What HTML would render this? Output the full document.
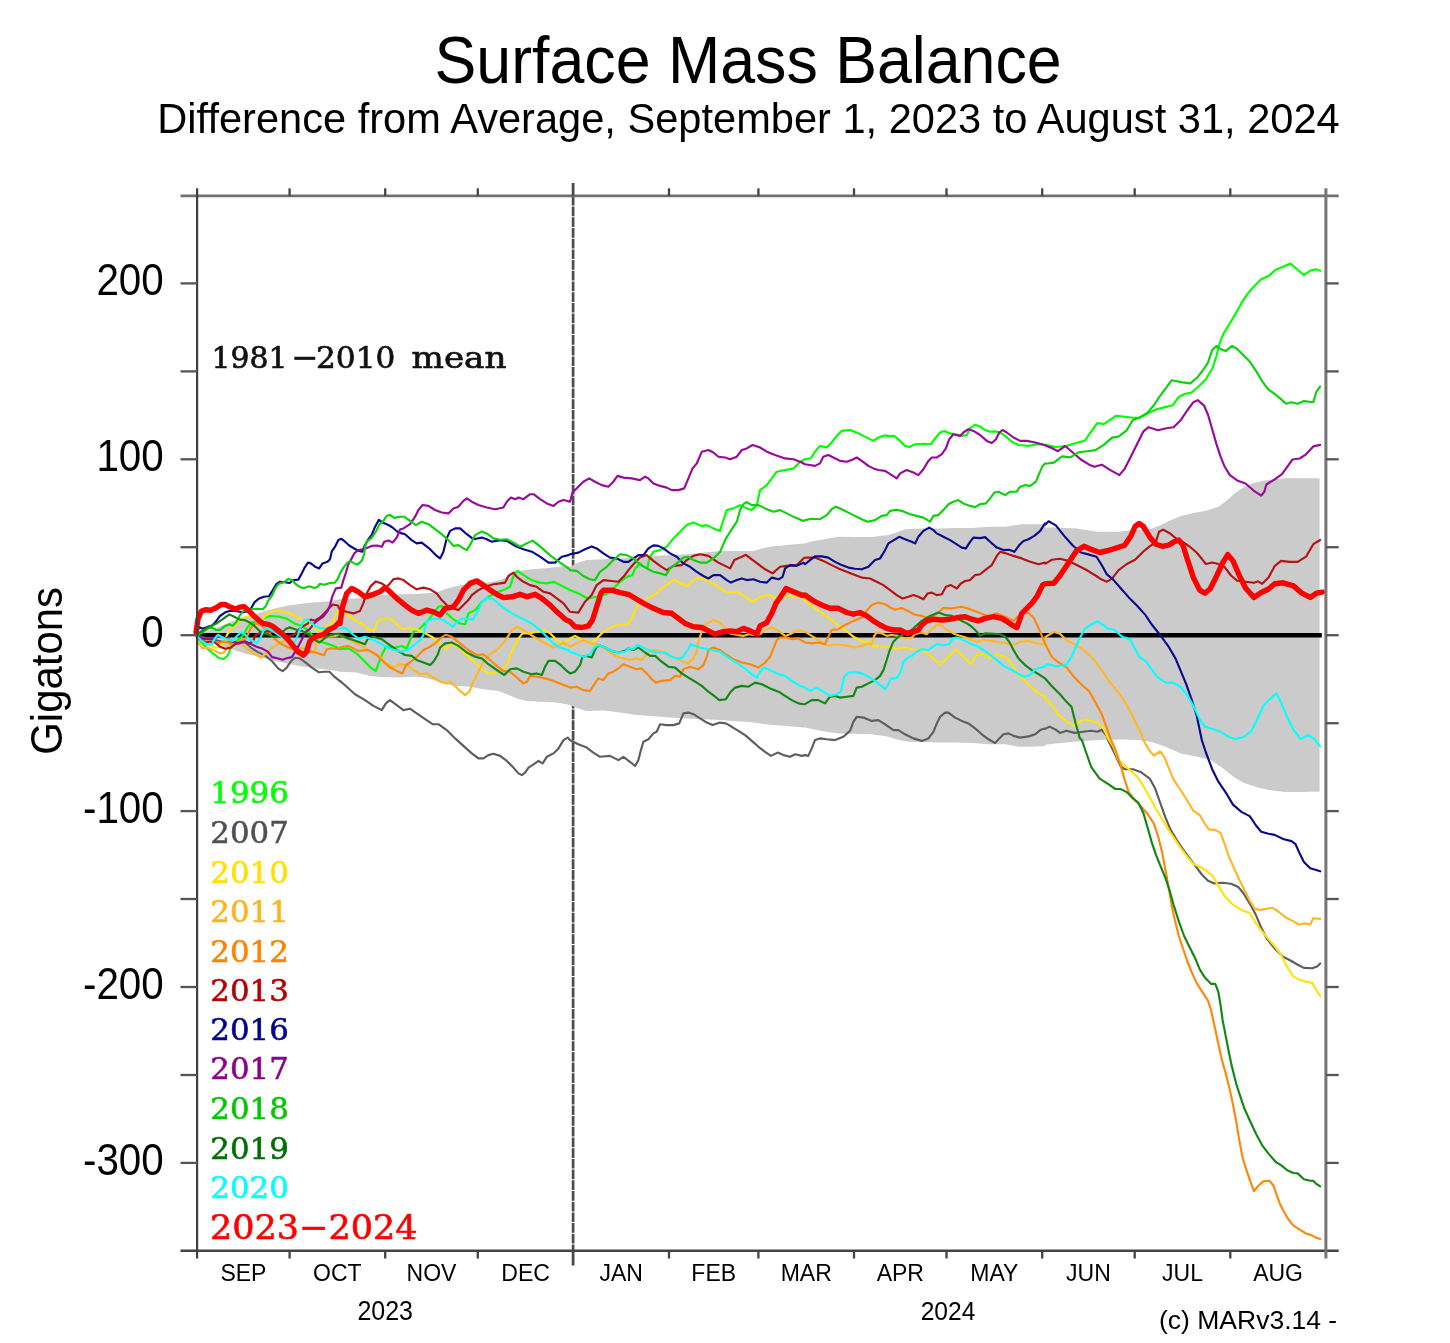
<!DOCTYPE html>
<html lang="en"><head><meta charset="utf-8"><title>Surface Mass Balance</title>
<style>
html,body{margin:0;padding:0;background:#fff;}
body{width:1450px;height:1343px;overflow:hidden;font-family:"Liberation Sans",sans-serif;}
svg{display:block;filter:blur(0.5px);}
.sans{font-family:"Liberation Sans",sans-serif;}
.serif{font-family:"DejaVu Serif","Liberation Serif",serif;}
</style></head><body>
<svg width="1450" height="1343" viewBox="0 0 1450 1343">
<rect width="1450" height="1343" fill="#ffffff"/>

<text class="sans" transform="translate(748.1,83.2) scale(1,1.05)" font-size="62.7" text-anchor="middle" fill="#000">Surface Mass Balance</text>
<text class="sans" transform="translate(748.5,133) scale(1,1.035)" font-size="41.6" text-anchor="middle" fill="#000">Difference from Average, September 1, 2023 to August 31, 2024</text>
<line x1="573.1" y1="195.9" x2="573.1" y2="1250.8" stroke="#4c4c4c" stroke-width="2.7" stroke-dasharray="9.7,1.0"/>
<path d="M196.0,635.2 L205.4,632.1 L215.8,628.0 L226.3,623.8 L236.7,619.6 L247.1,616.5 L257.5,613.4 L268.0,610.2 L278.4,607.6 L288.8,605.5 L299.2,604.0 L309.7,602.7 L320.1,601.9 L330.5,601.2 L340.0,599.3 L356.7,598.4 L373.4,595.9 L390.0,594.3 L406.7,594.3 L423.4,593.4 L436.7,592.6 L446.7,588.4 L456.7,585.9 L466.8,584.3 L483.4,583.4 L500.1,580.1 L506.8,576.8 L513.4,573.4 L517.6,570.9 L531.8,569.3 L548.5,568.1 L565.2,565.9 L570.0,566.8 L578.3,562.6 L586.7,560.1 L603.4,559.3 L620.0,558.4 L636.7,557.6 L653.4,555.9 L670.1,555.1 L686.7,554.3 L703.4,552.6 L720.1,550.9 L736.8,550.9 L753.5,550.9 L761.8,548.4 L770.1,546.8 L786.8,545.1 L803.5,543.4 L805.0,543.4 L813.3,540.9 L821.7,539.8 L838.4,536.8 L855.0,537.1 L871.7,537.1 L888.4,535.1 L898.4,531.8 L905.1,529.3 L921.7,528.4 L938.4,528.4 L955.1,528.1 L971.8,528.1 L988.5,526.8 L1005.1,526.8 L1021.8,524.2 L1038.5,524.2 L1045.0,524.2 L1045.4,527.5 L1055.8,527.5 L1076.7,528.6 L1097.5,531.7 L1118.4,531.7 L1126.7,530.7 L1151.7,528.6 L1160.1,525.4 L1168.4,521.3 L1180.9,516.1 L1193.4,512.9 L1205.9,510.8 L1218.4,506.7 L1226.8,500.4 L1235.1,493.1 L1243.5,487.6 L1251.8,483.5 L1264.3,480.4 L1274.7,479.3 L1285.2,478.3 L1319.6,478.3 L1319.6,791.5 L1301.8,792.1 L1285.2,792.1 L1268.5,790.0 L1256.0,786.9 L1243.5,782.7 L1233.0,776.5 L1222.6,768.1 L1210.1,759.8 L1197.6,756.7 L1180.9,753.6 L1164.2,746.3 L1151.7,742.1 L1139.2,740.0 L1122.6,739.5 L1103.8,739.7 L1076.7,741.4 L1055.8,743.5 L1045.4,744.7 L1045.0,745.9 L1030.2,746.8 L1018.5,746.8 L1005.1,744.3 L988.5,744.3 L971.8,743.1 L955.1,742.6 L938.4,742.6 L921.7,742.1 L908.4,741.8 L898.4,740.1 L888.4,736.8 L871.7,734.3 L855.0,733.8 L838.4,733.4 L821.7,730.9 L805.0,727.6 L803.5,727.6 L786.8,725.9 L770.1,724.8 L753.5,722.6 L736.8,721.3 L720.1,720.1 L703.4,719.3 L686.7,718.4 L670.1,717.6 L653.4,716.3 L636.7,715.1 L620.0,712.6 L603.4,710.4 L586.7,710.9 L578.3,708.4 L570.0,705.1 L556.8,702.6 L540.1,701.7 L526.8,700.9 L516.8,698.4 L506.8,694.2 L498.4,690.9 L483.4,689.2 L470.1,686.7 L456.7,685.9 L446.7,684.2 L433.4,680.0 L423.4,677.5 L415.1,676.7 L398.4,677.5 L381.7,677.0 L370.0,675.9 L356.7,672.5 L340.0,671.7 L330.5,669.9 L320.1,668.8 L309.7,667.6 L299.2,666.0 L288.8,663.9 L278.4,661.8 L268.0,659.2 L257.5,656.6 L247.1,654.0 L236.7,650.9 L226.3,647.8 L215.8,643.6 L205.4,638.4 L196.0,635.2Z" fill="#cbcbcb" stroke="none"/>
<line x1="197.1" y1="635.2" x2="1321.8" y2="635.2" stroke="#000" stroke-width="4.6"/>
<path d="M196.0,635.2 L201.3,642.5 L207.5,648.8 L213.8,654.0 L219.0,658.2 L223.7,659.0 L227.3,656.1 L229.4,651.9 L231.0,646.7 L234.6,642.5 L239.8,638.4 L244.0,634.2 L247.1,628.0 L250.2,623.8 L254.4,621.7 L259.6,620.7 L262.8,618.6 L270.1,616.0 L278.4,616.5 L286.7,618.6 L295.1,623.8 L303.4,626.4 L309.7,632.1 L314.9,638.4 L320.1,641.5 L328.4,644.1 L335.7,646.7 L340.0,649.2 L348.3,648.4 L356.7,653.4 L365.0,661.7 L371.7,668.4 L375.9,670.9 L379.2,661.7 L382.5,653.4 L385.9,646.7 L395.0,647.6 L401.7,646.0 L406.7,648.5 L410.0,640.1 L413.4,631.8 L418.4,630.1 L423.4,625.1 L428.4,620.1 L433.4,613.4 L438.4,606.8 L441.7,605.9 L446.7,613.4 L453.4,619.3 L460.1,623.5 L465.1,624.3 L468.4,613.4 L475.1,610.1 L481.8,601.8 L488.4,596.8 L496.8,592.6 L505.1,589.3 L510.1,586.8 L514.3,573.4 L517.6,570.9 L523.5,575.1 L531.8,580.1 L540.1,582.6 L546.8,583.4 L553.5,581.8 L561.8,585.9 L570.0,590.1 L580.0,594.3 L587.5,598.5 L596.7,596.8 L605.9,594.3 L613.4,588.5 L620.0,581.8 L626.7,576.8 L632.5,575.1 L635.0,568.4 L640.0,563.4 L643.4,566.8 L647.6,567.6 L649.2,558.4 L653.4,551.8 L660.1,550.1 L666.7,546.8 L673.4,538.4 L680.1,531.8 L686.7,525.1 L693.4,522.6 L701.8,525.9 L706.8,525.1 L713.4,528.4 L720.1,530.9 L723.4,520.1 L726.8,510.1 L733.4,508.4 L740.1,505.1 L746.8,508.4 L751.8,510.1 L756.8,505.1 L760.1,490.1 L766.8,485.1 L771.8,478.4 L776.8,471.7 L785.1,470.0 L793.5,468.4 L800.2,461.7 L805.0,459.2 L810.8,458.4 L815.0,451.7 L820.0,445.9 L826.7,447.5 L831.7,442.5 L836.7,435.9 L841.7,430.9 L850.0,430.0 L856.7,432.5 L863.4,435.9 L868.4,438.4 L873.4,440.9 L878.4,437.5 L885.1,435.4 L890.1,436.4 L894.2,435.9 L900.1,440.9 L905.1,445.9 L909.2,447.0 L915.1,444.2 L923.4,443.7 L930.9,444.2 L935.9,437.5 L940.1,432.5 L944.3,430.9 L950.1,433.4 L955.1,434.2 L961.8,435.9 L966.8,435.0 L970.1,428.4 L975.1,424.7 L980.1,426.4 L985.1,430.0 L990.1,431.7 L995.1,431.4 L1000.1,432.5 L1005.1,435.9 L1011.8,441.7 L1018.5,445.0 L1028.5,445.9 L1036.8,444.2 L1045.0,445.0 L1045.4,444.9 L1055.8,447.0 L1066.3,446.0 L1076.7,442.8 L1085.0,440.7 L1091.3,431.4 L1097.5,423.0 L1103.8,424.1 L1110.0,419.9 L1116.3,415.7 L1124.6,416.8 L1133.0,417.8 L1139.2,417.8 L1147.6,413.6 L1155.9,409.5 L1164.2,407.4 L1172.6,405.3 L1178.8,397.0 L1185.1,393.8 L1191.3,392.8 L1199.7,385.5 L1205.9,379.2 L1212.2,368.8 L1216.4,356.3 L1219.5,343.8 L1223.7,333.4 L1228.9,325.0 L1235.1,314.6 L1241.4,303.2 L1247.6,293.8 L1253.9,286.5 L1261.2,279.2 L1268.5,276.1 L1275.8,269.8 L1283.1,266.7 L1290.4,263.6 L1297.7,269.8 L1303.9,275.0 L1310.2,270.8 L1315.4,269.2 L1320.2,270.8" fill="none" stroke="#00ff00" stroke-width="2.15" stroke-linejoin="round" stroke-linecap="round"/>
<path d="M196.0,635.2 L203.3,637.3 L211.7,639.4 L221.1,641.5 L231.5,642.5 L245.0,642.5 L251.3,647.8 L257.5,651.9 L265.9,656.1 L272.1,661.3 L278.4,668.6 L282.6,671.2 L286.7,667.6 L290.9,661.3 L295.1,657.7 L299.2,658.2 L305.5,662.4 L311.8,667.6 L319.0,672.3 L324.3,671.7 L329.5,671.7 L334.7,676.9 L339.9,681.1 L340.0,680.9 L346.7,686.7 L355.0,694.2 L365.0,700.1 L373.4,705.9 L381.7,710.1 L385.9,703.4 L390.0,700.1 L396.7,705.1 L403.4,710.1 L410.0,708.7 L416.7,713.4 L425.1,719.2 L432.6,724.2 L438.4,724.2 L446.7,730.1 L455.1,738.4 L463.4,745.9 L471.8,753.4 L478.4,758.4 L483.4,758.4 L488.4,755.1 L493.4,753.8 L500.1,755.9 L506.8,760.9 L513.4,767.6 L518.5,773.4 L521.8,775.1 L525.1,772.6 L528.5,767.6 L533.5,764.3 L538.5,760.9 L542.6,763.4 L546.8,756.8 L553.5,753.4 L558.5,748.4 L563.5,740.1 L567.7,737.6 L570.0,740.1 L578.3,744.3 L586.7,747.6 L593.3,752.6 L600.0,756.8 L610.0,755.9 L618.4,760.1 L623.4,756.8 L630.0,761.8 L635.0,766.0 L638.4,760.1 L640.9,750.1 L643.4,741.8 L648.4,739.3 L653.4,733.4 L656.7,731.8 L660.1,724.3 L666.7,725.1 L673.4,725.1 L679.2,723.4 L683.4,713.4 L688.4,712.6 L693.4,714.2 L700.1,718.4 L706.8,722.6 L712.6,725.1 L720.1,722.6 L725.9,723.4 L731.8,726.8 L738.4,730.9 L745.1,735.1 L751.8,740.9 L758.5,746.8 L765.1,751.8 L771.0,755.9 L777.6,752.6 L783.5,755.1 L790.1,756.8 L795.2,754.3 L801.8,755.9 L805.0,755.1 L808.3,755.9 L811.7,748.4 L815.0,740.1 L820.0,738.4 L826.7,739.3 L835.0,740.1 L843.4,736.8 L850.0,730.9 L853.4,721.8 L856.7,716.8 L863.4,717.6 L871.7,720.9 L878.4,720.1 L885.1,724.3 L893.4,730.1 L898.4,730.1 L905.1,734.3 L913.4,738.4 L921.7,740.9 L928.4,738.4 L933.4,731.8 L936.8,723.4 L940.1,716.8 L945.1,712.6 L948.4,712.6 L955.1,717.6 L961.8,720.9 L968.4,723.4 L975.1,728.4 L981.8,734.3 L988.5,739.3 L995.1,743.1 L999.3,738.4 L1003.5,734.3 L1008.5,733.4 L1013.5,735.9 L1020.1,737.6 L1028.5,736.4 L1035.2,734.3 L1040.2,730.1 L1045.0,728.4 L1045.4,728.7 L1049.6,726.6 L1055.8,729.7 L1060.0,732.9 L1066.3,730.8 L1074.6,732.9 L1082.9,731.8 L1091.3,730.8 L1097.5,731.8 L1101.7,729.7 L1106.9,736.0 L1108.0,740.0 L1114.2,752.5 L1120.5,766.1 L1124.6,769.2 L1133.0,769.2 L1141.3,772.3 L1149.7,778.6 L1154.9,787.9 L1160.1,802.5 L1165.3,817.1 L1170.5,829.6 L1176.8,840.1 L1183.0,849.4 L1189.3,857.8 L1195.5,866.1 L1201.8,874.5 L1208.0,880.7 L1214.3,883.4 L1222.6,882.8 L1231.0,883.8 L1238.3,887.0 L1243.5,893.2 L1249.7,903.6 L1256.0,915.1 L1261.2,927.6 L1266.4,938.0 L1274.7,948.5 L1283.1,956.8 L1291.4,961.0 L1297.7,964.7 L1303.9,967.9 L1312.3,968.3 L1317.5,966.2 L1320.2,963.5" fill="none" stroke="#5e5e5e" stroke-width="2.15" stroke-linejoin="round" stroke-linecap="round"/>
<path d="M196.0,635.2 L201.3,640.5 L208.6,644.6 L215.8,647.8 L221.1,646.7 L223.1,644.6 L224.2,641.5 L227.3,634.2 L232.5,628.0 L238.8,621.7 L245.0,617.0 L249.2,616.5 L255.5,619.6 L261.7,619.6 L266.9,614.4 L272.1,611.3 L278.4,610.8 L284.6,612.3 L289.9,613.4 L295.1,616.0 L300.3,618.6 L304.5,621.2 L308.6,623.8 L312.8,628.0 L317.0,630.0 L322.2,631.1 L326.3,626.9 L330.5,623.8 L333.6,621.2 L335.7,614.4 L338.9,610.2 L340.0,612.5 L346.7,615.0 L355.0,620.0 L363.3,625.0 L370.0,630.0 L374.2,630.8 L377.5,621.7 L381.7,619.2 L388.4,618.3 L393.4,620.8 L398.4,625.8 L403.4,629.2 L410.0,628.3 L418.4,630.0 L425.1,633.3 L431.7,636.7 L438.4,641.7 L443.4,647.5 L446.7,649.2 L450.1,643.4 L456.7,645.9 L463.4,651.7 L470.1,658.4 L476.8,664.2 L483.4,670.0 L488.4,673.4 L495.1,672.5 L501.8,670.0 L506.8,665.0 L510.1,655.0 L514.3,646.7 L518.5,638.4 L522.6,633.3 L530.1,633.3 L536.8,631.7 L545.1,630.0 L550.1,633.3 L556.8,640.0 L563.5,643.4 L570.0,638.4 L575.0,635.9 L580.0,638.4 L586.7,641.7 L593.3,641.7 L598.4,636.7 L603.4,631.7 L610.0,628.4 L616.7,625.0 L626.7,625.0 L631.7,618.4 L635.9,608.3 L640.0,603.3 L645.1,600.1 L653.4,595.1 L661.7,588.5 L668.4,583.5 L674.2,579.3 L680.1,583.5 L686.7,586.0 L693.4,580.1 L700.1,577.6 L708.4,581.0 L716.8,586.0 L726.8,592.6 L736.8,591.8 L745.1,596.8 L752.6,601.8 L760.1,596.8 L768.5,595.1 L776.8,598.5 L785.1,595.1 L793.5,596.8 L801.8,596.8 L805.0,600.8 L811.7,605.8 L820.0,611.7 L828.3,617.5 L836.7,624.2 L845.0,630.0 L853.4,636.7 L861.7,640.9 L871.7,643.4 L873.4,645.9 L880.1,647.5 L888.4,646.7 L895.1,649.2 L903.4,647.5 L911.7,649.2 L920.1,649.7 L926.7,652.5 L931.8,657.5 L936.8,661.7 L940.1,664.2 L945.1,660.0 L950.1,655.0 L955.9,649.2 L961.8,655.0 L966.8,660.0 L970.9,664.2 L974.3,658.4 L978.4,653.4 L984.3,655.0 L990.1,658.4 L996.8,654.2 L1003.5,656.7 L1008.5,659.2 L1013.5,666.7 L1018.5,675.1 L1025.1,680.9 L1031.8,687.6 L1038.5,693.4 L1045.0,696.7 L1045.4,698.5 L1051.7,704.7 L1057.9,714.1 L1066.3,721.4 L1074.6,725.6 L1079.8,721.4 L1085.0,719.3 L1091.3,721.0 L1097.5,722.4 L1103.8,728.7 L1108.0,738.1 L1113.2,746.3 L1118.4,759.8 L1121.5,762.9 L1128.8,769.2 L1137.1,776.5 L1143.4,785.9 L1149.7,797.3 L1155.9,808.8 L1162.2,819.2 L1168.4,829.6 L1174.7,839.0 L1180.9,848.4 L1187.2,856.7 L1193.4,864.0 L1199.7,866.7 L1205.9,870.3 L1212.2,875.5 L1218.4,885.9 L1224.7,896.3 L1233.0,904.7 L1241.4,909.9 L1249.7,913.0 L1256.0,923.4 L1262.2,931.8 L1268.5,939.1 L1274.7,946.4 L1281.0,954.7 L1287.2,967.2 L1293.5,976.6 L1299.7,979.7 L1306.0,981.8 L1312.3,982.9 L1316.4,990.2 L1320.2,996.0" fill="none" stroke="#ffe30a" stroke-width="2.15" stroke-linejoin="round" stroke-linecap="round"/>
<path d="M196.0,635.2 L198.1,642.5 L202.3,647.8 L208.6,647.8 L214.8,650.9 L220.0,653.5 L224.2,652.4 L227.3,647.8 L230.4,644.6 L236.7,642.5 L241.9,644.6 L247.1,648.8 L253.4,653.0 L260.7,657.7 L263.8,655.1 L268.0,651.9 L272.1,647.8 L277.4,644.6 L281.5,642.5 L284.6,640.5 L288.8,642.5 L294.0,646.7 L299.2,648.8 L303.4,647.8 L309.7,650.9 L314.9,651.9 L315.9,643.6 L319.0,642.5 L320.1,638.4 L326.3,636.8 L333.6,636.3 L340.0,635.0 L350.0,640.0 L360.0,645.0 L370.0,650.9 L380.0,656.7 L386.7,663.4 L393.4,667.5 L400.0,664.2 L406.7,665.0 L413.4,670.0 L420.1,674.2 L426.7,673.4 L433.4,677.5 L440.1,681.7 L446.7,683.4 L450.1,681.7 L455.1,685.9 L460.1,690.9 L465.1,695.1 L469.3,691.7 L473.4,681.7 L478.4,671.7 L483.4,661.7 L490.1,654.2 L496.8,650.0 L501.8,645.0 L506.8,638.4 L511.8,630.0 L517.6,626.7 L521.8,629.2 L528.5,633.3 L535.1,637.5 L543.5,642.5 L553.5,647.5 L558.5,645.9 L563.5,642.5 L570.0,646.7 L576.7,643.4 L583.3,640.0 L591.7,643.4 L596.7,644.2 L603.4,647.5 L610.0,652.5 L616.7,656.7 L623.4,658.4 L630.0,660.0 L636.7,658.4 L641.7,660.0 L646.7,654.2 L650.1,650.9 L656.7,650.0 L663.4,652.5 L670.1,655.9 L676.7,658.4 L683.4,661.7 L688.4,663.4 L693.4,658.4 L696.8,651.7 L698.4,641.7 L701.8,631.7 L706.8,623.4 L713.4,620.0 L720.1,622.5 L725.1,628.4 L730.1,633.4 L736.8,635.0 L743.4,635.9 L748.5,634.2 L753.5,635.0 L760.1,634.2 L765.1,630.0 L771.8,627.5 L778.5,630.9 L785.1,635.9 L791.8,633.4 L798.5,630.0 L805.0,631.7 L811.7,635.9 L818.3,640.0 L823.3,643.4 L828.3,645.9 L835.0,644.2 L841.7,645.0 L848.4,645.9 L855.0,647.5 L861.7,645.9 L868.4,643.4 L871.7,644.2 L874.2,635.9 L876.7,632.5 L881.7,633.4 L886.7,635.9 L891.7,635.0 L898.4,635.9 L905.1,638.4 L911.7,637.5 L915.1,634.2 L921.7,632.5 L926.7,634.2 L931.8,629.2 L936.8,625.0 L941.8,625.9 L946.8,630.0 L953.4,633.4 L960.1,635.9 L968.4,638.4 L976.8,641.7 L983.5,640.0 L991.8,640.9 L1000.1,642.5 L1006.8,643.4 L1013.5,645.0 L1020.1,641.7 L1028.5,640.9 L1036.8,643.4 L1045.0,644.2 L1045.4,637.0 L1053.8,631.8 L1060.0,633.8 L1066.3,640.1 L1074.6,644.3 L1082.9,649.5 L1091.3,656.8 L1099.6,667.2 L1108.0,679.7 L1116.3,690.1 L1122.6,698.5 L1128.8,708.9 L1135.1,721.4 L1141.3,733.9 L1143.4,740.0 L1148.6,749.4 L1153.8,755.6 L1160.1,751.5 L1164.2,756.7 L1168.4,767.1 L1173.6,779.6 L1179.9,789.0 L1187.2,800.5 L1193.4,810.9 L1199.7,815.0 L1203.9,822.3 L1209.1,829.6 L1214.3,829.6 L1220.5,832.8 L1224.7,844.2 L1228.9,856.7 L1234.1,868.2 L1239.3,879.7 L1244.5,890.1 L1249.7,900.5 L1254.9,908.9 L1260.1,909.9 L1266.4,908.9 L1272.6,907.8 L1278.9,912.0 L1285.2,917.2 L1293.5,921.4 L1298.7,924.5 L1305.0,923.4 L1310.2,924.5 L1313.3,918.2 L1320.2,918.9" fill="none" stroke="#ffb726" stroke-width="2.15" stroke-linejoin="round" stroke-linecap="round"/>
<path d="M196.0,635.2 L201.3,639.4 L207.5,642.5 L213.8,641.5 L219.0,642.5 L225.2,641.5 L230.4,643.6 L236.7,642.5 L241.9,640.5 L246.1,638.4 L248.2,634.2 L250.2,629.0 L253.4,624.8 L256.5,623.3 L261.7,625.9 L268.0,632.1 L274.2,638.4 L280.5,643.6 L288.8,647.8 L297.2,650.9 L304.5,651.9 L309.7,651.9 L314.9,652.4 L320.1,654.0 L324.3,655.1 L326.3,649.8 L330.5,648.3 L336.8,648.8 L340.0,647.5 L348.3,645.9 L358.3,650.9 L368.4,650.0 L376.7,655.0 L383.4,661.7 L390.0,667.5 L396.7,670.9 L402.5,673.4 L405.9,665.0 L410.0,662.5 L415.1,658.4 L420.1,653.4 L423.4,650.0 L430.1,646.7 L435.1,643.4 L440.1,638.4 L445.9,634.7 L451.7,636.7 L460.1,643.4 L468.4,650.0 L476.8,655.0 L483.4,654.2 L490.1,660.0 L496.8,665.9 L503.4,670.9 L510.1,671.7 L516.8,677.5 L523.5,683.4 L526.8,681.7 L530.1,675.9 L536.8,676.7 L545.1,678.4 L553.5,680.9 L561.8,684.2 L570.0,687.6 L576.7,686.7 L583.3,690.1 L590.0,690.9 L595.0,683.4 L598.4,678.4 L603.4,680.1 L608.4,673.4 L613.4,671.7 L618.4,668.4 L623.4,664.2 L630.0,666.7 L636.7,669.2 L641.7,668.4 L646.7,673.4 L651.7,679.2 L655.9,682.6 L661.7,680.9 L670.1,680.1 L675.1,675.9 L680.1,676.7 L683.4,669.2 L690.1,666.7 L698.4,669.2 L703.4,665.1 L706.8,656.7 L708.4,650.0 L713.4,647.5 L720.1,650.0 L726.8,655.0 L733.4,659.2 L741.8,662.5 L750.1,664.2 L758.5,667.6 L765.1,662.5 L770.1,656.7 L773.5,648.4 L776.8,640.0 L780.1,637.5 L786.8,637.5 L791.8,639.2 L798.5,638.4 L803.5,641.7 L805.0,642.5 L811.7,643.4 L818.3,642.5 L825.0,644.2 L828.3,636.7 L831.7,630.0 L838.4,629.2 L845.0,625.0 L853.4,620.9 L861.7,617.5 L866.7,610.8 L871.7,605.0 L878.4,602.5 L885.1,604.2 L890.1,607.5 L895.1,609.7 L901.7,608.0 L908.4,611.3 L915.1,614.7 L921.7,615.9 L926.7,617.5 L933.4,615.9 L938.4,612.5 L943.4,608.0 L951.8,608.3 L961.8,606.7 L970.1,609.2 L978.4,612.5 L985.1,615.0 L990.1,615.9 L996.8,613.3 L1003.5,615.9 L1010.1,619.2 L1013.5,620.9 L1016.8,617.5 L1021.8,613.0 L1028.5,613.0 L1033.5,617.5 L1036.8,624.2 L1040.2,631.7 L1043.5,640.0 L1045.0,643.4 L1045.4,644.3 L1051.7,656.8 L1057.9,662.0 L1066.3,667.2 L1074.6,677.6 L1082.9,686.0 L1089.2,691.2 L1095.5,702.6 L1101.7,714.1 L1105.9,725.6 L1111.1,740.0 L1115.3,749.4 L1120.5,765.0 L1124.6,779.6 L1128.8,792.1 L1135.1,800.5 L1141.3,806.7 L1147.6,814.0 L1153.8,823.4 L1158.0,835.9 L1162.2,852.6 L1165.3,869.2 L1168.4,885.9 L1171.5,904.7 L1174.7,919.3 L1178.8,936.0 L1183.0,948.5 L1187.2,961.0 L1191.3,971.4 L1196.6,982.9 L1201.8,991.2 L1208.0,1000.6 L1211.2,1011.0 L1213.2,1020.0 L1215.3,1029.6 L1218.4,1044.2 L1221.6,1058.8 L1225.7,1073.4 L1229.9,1090.1 L1233.0,1104.7 L1236.2,1121.3 L1239.3,1140.1 L1242.4,1156.8 L1245.5,1167.2 L1249.7,1179.7 L1253.9,1191.2 L1258.1,1186.0 L1263.3,1181.4 L1269.5,1180.7 L1273.7,1186.0 L1276.8,1195.3 L1279.9,1203.7 L1284.1,1212.0 L1288.3,1219.3 L1293.5,1225.6 L1299.7,1229.7 L1306.0,1233.5 L1312.3,1235.6 L1316.4,1237.7 L1320.2,1239.1" fill="none" stroke="#ff870a" stroke-width="2.15" stroke-linejoin="round" stroke-linecap="round"/>
<path d="M196.0,635.2 L200.2,639.4 L205.4,642.5 L209.6,641.5 L214.8,642.5 L220.0,646.7 L225.2,648.8 L230.4,647.8 L234.6,644.6 L239.8,642.5 L245.0,641.5 L249.2,643.6 L253.4,640.5 L255.5,635.2 L259.6,633.2 L263.8,632.1 L268.0,631.1 L274.2,632.1 L280.5,634.2 L288.8,636.3 L295.1,634.2 L299.2,629.0 L303.4,625.9 L307.6,623.8 L310.7,619.6 L314.9,620.7 L320.1,617.5 L326.3,611.3 L332.6,604.5 L337.8,605.5 L340.0,610.1 L346.7,611.8 L353.3,613.4 L360.0,610.9 L363.3,603.4 L366.7,593.4 L370.9,585.9 L375.9,581.4 L381.7,583.4 L386.7,586.8 L390.0,583.4 L393.4,579.3 L398.4,578.4 L403.4,580.1 L410.0,585.1 L416.7,589.3 L423.4,587.6 L430.1,589.3 L436.7,593.4 L441.7,600.1 L446.7,605.1 L453.4,608.4 L458.4,610.1 L463.4,605.1 L468.4,600.1 L471.8,595.1 L478.4,590.1 L485.1,586.8 L493.4,584.3 L500.1,583.4 L505.1,582.6 L508.4,575.9 L513.4,572.6 L516.8,576.8 L523.5,581.8 L530.1,585.1 L536.8,586.8 L543.5,591.8 L550.1,593.4 L556.8,598.4 L563.5,603.4 L570.0,611.8 L578.3,612.6 L585.0,601.8 L591.7,595.1 L596.7,585.1 L603.4,580.1 L611.7,581.0 L618.4,581.8 L623.4,576.8 L628.4,570.1 L633.4,564.3 L640.0,557.6 L646.7,555.1 L653.4,560.9 L660.1,565.9 L666.7,570.1 L673.4,565.9 L681.7,565.1 L686.7,560.1 L693.4,555.9 L700.1,554.3 L708.4,555.9 L713.4,559.3 L718.4,562.6 L725.1,565.9 L730.1,568.4 L734.3,560.1 L740.1,557.6 L746.0,554.8 L751.8,559.3 L758.5,564.3 L765.1,569.3 L772.6,573.4 L780.1,566.8 L786.8,565.9 L796.8,565.1 L803.5,558.4 L805.0,557.6 L815.0,557.6 L823.3,560.9 L831.7,565.1 L838.4,568.4 L846.7,571.8 L855.0,575.1 L861.7,577.6 L870.0,578.5 L876.7,581.8 L883.4,585.1 L890.1,590.1 L896.7,595.1 L902.6,598.5 L908.4,596.8 L913.4,595.1 L918.4,596.8 L923.4,599.3 L927.6,593.5 L931.8,592.6 L936.8,595.1 L941.8,594.3 L945.9,586.8 L950.9,585.1 L956.8,588.5 L960.9,583.5 L965.1,581.0 L970.1,580.1 L975.1,575.1 L980.1,574.3 L985.1,570.1 L991.8,565.1 L996.8,555.9 L1000.1,551.8 L1005.1,553.1 L1013.5,555.9 L1021.8,558.4 L1030.2,561.8 L1038.5,564.3 L1045.0,562.6 L1045.4,563.6 L1051.7,559.8 L1060.0,558.8 L1068.4,560.9 L1076.7,565.0 L1087.1,570.3 L1095.5,575.5 L1101.7,579.6 L1106.9,581.7 L1112.1,578.6 L1118.4,570.3 L1126.7,564.0 L1135.1,559.8 L1143.4,551.5 L1149.7,546.3 L1155.9,542.1 L1159.0,531.7 L1163.2,529.6 L1170.5,533.8 L1176.8,539.0 L1183.0,542.1 L1189.3,546.3 L1196.6,552.5 L1201.8,558.8 L1205.9,564.0 L1212.2,562.5 L1218.4,564.0 L1224.7,567.1 L1231.0,575.5 L1237.2,580.7 L1245.5,581.7 L1253.9,582.8 L1258.1,581.3 L1262.2,583.8 L1268.5,577.6 L1274.7,566.1 L1281.0,560.9 L1289.3,561.9 L1297.7,561.9 L1306.0,556.7 L1313.3,544.2 L1320.2,540.0" fill="none" stroke="#b81212" stroke-width="2.15" stroke-linejoin="round" stroke-linecap="round"/>
<path d="M196.0,634.2 L199.2,627.4 L202.8,628.5 L207.5,626.9 L211.7,625.9 L215.8,621.7 L220.0,616.0 L225.2,612.3 L230.4,610.8 L236.7,611.3 L243.0,612.3 L248.2,611.3 L251.3,608.1 L254.4,602.4 L258.6,598.8 L263.8,596.7 L269.0,596.2 L272.7,590.4 L276.3,584.2 L280.0,581.7 L285.0,582.2 L289.6,583.0 L293.3,580.1 L298.3,579.6 L300.9,575.1 L304.2,568.4 L307.9,562.6 L310.9,563.4 L315.0,566.7 L319.2,568.4 L322.5,563.4 L327.5,561.7 L330.0,559.2 L331.7,551.7 L335.0,546.7 L338.4,540.0 L341.3,538.8 L345.1,541.7 L349.2,545.5 L353.4,548.0 L357.6,550.5 L362.2,551.7 L365.1,545.0 L368.4,539.2 L371.7,535.0 L375.1,526.7 L378.8,520.0 L382.6,522.5 L388.4,525.0 L392.6,527.5 L396.8,531.3 L400.0,532.9 L405.0,534.2 L411.7,540.1 L416.7,543.4 L421.7,542.6 L430.1,549.2 L436.7,555.9 L440.1,558.4 L443.4,551.7 L446.7,538.4 L450.1,530.9 L455.1,528.4 L460.1,528.4 L466.8,534.2 L473.4,539.2 L481.8,537.6 L486.8,539.2 L491.8,541.7 L500.1,540.1 L506.8,540.9 L515.1,545.9 L523.5,549.2 L531.8,551.7 L540.1,556.7 L548.5,562.6 L555.1,562.6 L561.8,556.7 L568.5,555.1 L570.0,554.3 L578.3,552.6 L585.0,549.3 L591.7,546.4 L596.7,548.4 L603.4,553.4 L610.0,557.6 L616.7,558.4 L623.4,561.8 L628.4,561.8 L633.4,558.4 L638.4,555.1 L643.4,555.1 L648.4,548.4 L653.4,545.4 L658.4,545.9 L663.4,548.4 L670.1,553.4 L676.7,556.8 L683.4,563.4 L690.1,566.8 L696.8,571.8 L703.4,576.0 L708.4,578.5 L713.4,575.1 L720.1,575.1 L726.8,580.1 L730.9,582.6 L736.8,580.1 L741.8,578.5 L746.8,580.1 L753.5,579.3 L760.1,581.8 L766.8,582.6 L771.8,577.6 L778.5,579.3 L782.6,576.8 L785.1,568.4 L790.1,565.1 L796.8,565.9 L803.5,562.6 L805.0,564.3 L810.0,560.1 L815.0,556.4 L821.7,556.4 L828.3,557.6 L835.0,561.8 L841.7,565.1 L848.4,567.6 L855.0,568.8 L861.7,569.3 L868.4,566.8 L875.0,560.1 L880.1,558.4 L885.1,550.1 L888.4,543.4 L895.1,539.3 L899.2,536.8 L905.1,539.3 L911.7,541.8 L915.1,543.4 L918.4,536.8 L923.4,530.9 L929.2,527.6 L933.4,530.1 L936.8,533.4 L943.4,536.8 L950.1,540.1 L956.8,544.3 L961.8,547.6 L965.9,548.4 L970.1,541.8 L973.4,537.6 L980.1,538.1 L985.1,537.1 L990.1,541.8 L996.8,547.6 L1003.5,550.1 L1009.3,549.8 L1014.3,551.8 L1019.3,545.1 L1023.5,540.9 L1028.5,539.3 L1034.3,535.9 L1040.2,530.9 L1045.0,523.4 L1045.4,524.4 L1048.6,521.3 L1055.8,525.4 L1064.2,535.9 L1072.5,545.2 L1080.9,552.5 L1089.2,554.6 L1096.5,556.7 L1101.7,565.0 L1106.9,574.4 L1113.2,579.6 L1120.5,588.0 L1128.8,597.4 L1137.1,605.7 L1145.5,615.1 L1151.7,624.5 L1160.1,634.9 L1168.4,646.3 L1175.7,658.9 L1180.9,671.4 L1186.1,683.9 L1191.3,698.5 L1196.6,715.1 L1201.8,740.0 L1205.9,752.5 L1212.2,769.2 L1218.4,781.7 L1226.8,794.2 L1233.0,804.6 L1241.4,811.9 L1249.7,816.1 L1256.0,825.5 L1261.2,831.7 L1268.5,833.8 L1274.7,834.9 L1283.1,839.0 L1291.4,841.1 L1295.6,844.2 L1299.7,853.6 L1303.9,862.0 L1310.2,868.2 L1315.4,869.7 L1320.2,871.3" fill="none" stroke="#0a0a8e" stroke-width="2.15" stroke-linejoin="round" stroke-linecap="round"/>
<path d="M196.0,635.2 L201.3,638.4 L207.5,639.4 L213.8,638.4 L219.0,636.3 L226.3,637.9 L232.5,641.5 L238.8,643.6 L245.0,641.5 L250.2,643.6 L256.5,646.7 L262.8,648.8 L268.0,651.9 L272.1,657.1 L277.4,658.2 L282.6,659.7 L286.7,658.2 L291.9,657.1 L295.1,651.9 L299.2,644.6 L302.4,638.4 L305.5,632.1 L309.7,629.0 L313.8,623.8 L318.0,620.1 L323.2,616.5 L327.4,611.3 L330.0,605.1 L332.5,595.9 L335.9,588.4 L341.3,587.6 L343.4,580.1 L345.9,572.6 L348.4,564.2 L351.7,558.4 L354.2,553.4 L358.4,550.0 L362.6,549.2 L366.7,548.0 L371.7,545.9 L377.6,545.5 L381.8,546.7 L384.3,541.7 L388.4,540.5 L392.6,542.5 L396.8,537.5 L400.0,529.6 L403.4,528.4 L410.0,524.2 L415.1,516.7 L418.4,510.0 L422.6,505.0 L428.4,505.9 L435.1,510.0 L441.7,512.5 L448.4,513.4 L453.4,508.4 L458.4,506.7 L463.4,500.9 L466.8,498.4 L471.8,501.7 L478.4,505.0 L486.8,507.5 L495.1,509.2 L503.4,507.5 L506.8,501.7 L510.9,497.5 L515.1,499.2 L518.5,497.5 L523.5,499.2 L530.1,494.2 L533.5,494.2 L540.1,499.2 L546.8,503.4 L553.5,505.9 L558.5,501.7 L563.5,500.0 L570.0,501.7 L572.5,492.6 L578.3,486.7 L583.3,481.7 L589.2,478.4 L595.0,481.7 L601.7,485.1 L608.4,486.7 L613.4,481.7 L617.5,475.9 L623.4,477.6 L631.7,478.4 L640.0,480.1 L645.1,476.7 L648.4,478.4 L653.4,483.4 L660.1,485.9 L666.7,487.6 L671.7,490.1 L678.4,490.1 L684.2,488.4 L688.4,478.4 L692.6,468.4 L696.8,463.4 L701.8,451.7 L708.4,450.0 L713.4,452.5 L718.4,456.7 L725.1,457.5 L730.1,459.2 L736.8,456.7 L741.8,450.0 L746.8,448.4 L752.6,445.0 L760.1,447.5 L766.8,451.7 L775.1,455.0 L785.1,458.4 L793.5,459.2 L801.8,462.5 L805.0,464.2 L810.0,465.0 L815.0,465.9 L820.0,463.4 L823.3,456.7 L828.3,455.0 L833.4,457.5 L840.0,460.9 L846.7,461.7 L851.7,460.0 L856.7,457.5 L861.7,460.9 L868.4,465.9 L873.4,468.4 L878.4,470.0 L885.1,470.9 L891.7,475.1 L896.7,478.4 L900.1,473.4 L906.7,470.0 L913.4,472.5 L918.4,475.1 L923.4,469.2 L928.4,460.9 L931.8,457.5 L936.8,457.5 L941.8,454.2 L945.9,448.4 L949.3,439.2 L953.4,434.2 L960.1,435.9 L963.4,432.5 L968.4,429.2 L973.4,430.9 L980.1,435.0 L986.8,440.9 L991.8,443.0 L996.0,439.2 L999.3,432.5 L1002.6,430.0 L1006.8,432.5 L1013.5,437.5 L1020.1,440.9 L1026.8,440.9 L1035.2,442.5 L1041.8,444.2 L1045.0,445.0 L1045.4,445.5 L1051.7,448.0 L1057.9,451.2 L1065.2,446.0 L1072.5,452.2 L1080.9,459.5 L1089.2,464.7 L1094.4,466.8 L1101.7,464.7 L1110.0,469.9 L1119.4,475.1 L1124.6,468.9 L1130.9,456.4 L1137.1,443.9 L1143.4,431.4 L1148.6,427.2 L1158.0,430.3 L1166.3,428.2 L1173.6,427.2 L1180.9,419.9 L1187.2,410.5 L1193.4,402.2 L1197.6,400.1 L1203.9,405.3 L1208.0,414.7 L1212.2,429.3 L1216.4,443.9 L1220.5,456.4 L1224.7,466.8 L1229.9,475.1 L1237.2,480.4 L1245.5,483.5 L1253.9,490.8 L1261.2,495.6 L1264.3,491.8 L1266.4,484.5 L1274.7,479.3 L1282.0,474.1 L1287.2,466.8 L1292.5,459.5 L1299.7,458.5 L1306.0,454.3 L1313.3,446.4 L1320.2,444.9" fill="none" stroke="#980a98" stroke-width="2.15" stroke-linejoin="round" stroke-linecap="round"/>
<path d="M196.0,635.2 L201.3,633.2 L207.5,629.0 L211.7,626.9 L215.8,630.0 L220.0,630.0 L225.2,625.9 L229.4,624.3 L232.5,625.9 L236.7,621.7 L239.8,615.4 L243.0,611.3 L247.1,610.2 L251.3,609.2 L257.5,608.7 L262.8,609.2 L265.9,606.1 L268.0,600.8 L272.1,595.6 L275.3,588.3 L278.4,584.2 L280.0,583.4 L284.2,582.2 L288.3,578.8 L292.5,580.5 L295.8,584.2 L300.0,587.2 L304.2,588.0 L309.2,586.3 L314.2,588.0 L317.5,586.7 L320.0,583.8 L324.2,584.7 L330.0,583.0 L335.0,582.6 L337.5,579.2 L340.1,573.4 L343.4,567.6 L347.6,562.6 L350.9,561.3 L354.2,563.4 L357.6,564.6 L361.7,560.9 L364.2,554.2 L365.1,546.7 L366.7,541.7 L371.7,537.9 L375.9,531.7 L379.2,524.6 L383.4,520.9 L386.8,515.8 L390.1,515.0 L394.3,517.9 L400.0,516.7 L404.2,516.7 L410.0,520.9 L415.9,525.1 L421.7,521.7 L428.4,524.2 L435.1,529.2 L441.7,534.2 L448.4,540.1 L453.4,545.9 L458.4,545.1 L463.4,548.4 L466.8,550.1 L470.9,543.4 L475.1,535.1 L481.8,531.4 L486.8,533.4 L493.4,538.4 L500.1,539.7 L506.8,539.2 L513.4,542.6 L520.1,546.7 L526.8,543.4 L532.6,540.6 L538.5,545.1 L545.1,550.9 L551.8,556.7 L560.1,562.6 L568.5,568.4 L570.0,570.1 L576.7,570.9 L583.3,576.0 L590.0,579.3 L595.0,580.1 L600.0,571.8 L606.7,566.8 L613.4,560.1 L620.0,554.3 L626.7,555.1 L633.4,558.4 L640.0,564.3 L646.7,568.4 L653.4,571.8 L660.1,573.4 L665.9,575.1 L670.1,568.4 L676.7,563.4 L683.4,557.6 L688.4,556.8 L693.4,560.1 L700.1,562.6 L706.8,562.6 L713.4,558.4 L720.1,551.8 L725.1,540.1 L730.1,531.8 L736.8,521.7 L740.1,510.1 L743.4,504.2 L746.8,502.1 L751.8,505.1 L758.5,505.1 L765.1,508.4 L773.5,511.7 L780.1,510.1 L786.8,513.4 L795.2,517.6 L803.5,520.9 L805.0,520.1 L811.7,518.7 L820.0,519.2 L826.7,515.1 L831.7,509.2 L835.9,506.7 L841.7,509.2 L848.4,512.6 L855.0,515.9 L861.7,519.2 L867.5,521.7 L875.0,520.1 L881.7,515.9 L886.7,515.1 L890.1,510.9 L896.7,509.7 L903.4,511.4 L910.1,514.2 L916.7,515.9 L923.4,517.6 L930.1,521.7 L933.4,515.9 L938.4,515.1 L943.4,510.1 L948.4,504.2 L953.4,501.7 L958.4,500.1 L963.4,503.4 L970.1,505.9 L975.1,507.1 L980.1,504.2 L986.0,503.4 L990.1,498.4 L994.3,492.6 L998.5,491.7 L1005.1,495.1 L1010.1,491.7 L1016.8,491.7 L1020.1,486.7 L1025.1,485.1 L1030.2,485.9 L1036.0,481.7 L1039.3,473.4 L1042.7,465.9 L1045.0,463.4 L1045.4,463.7 L1053.8,462.6 L1062.1,456.4 L1070.4,457.4 L1078.8,452.2 L1087.1,451.2 L1095.5,450.1 L1103.8,444.9 L1112.1,437.6 L1118.4,436.6 L1126.7,430.3 L1133.0,419.9 L1139.2,417.8 L1147.6,412.6 L1153.8,405.3 L1160.1,395.9 L1166.3,387.6 L1171.5,380.3 L1176.8,381.3 L1183.0,382.4 L1190.3,383.4 L1197.6,377.2 L1203.9,368.8 L1208.0,362.6 L1212.2,350.1 L1216.4,345.9 L1220.5,349.0 L1225.7,351.1 L1232.0,345.9 L1237.2,349.0 L1243.5,355.3 L1249.7,361.5 L1256.0,370.9 L1262.2,381.3 L1268.5,389.7 L1274.7,393.8 L1281.0,399.1 L1286.2,403.8 L1291.4,402.2 L1297.7,403.8 L1303.9,401.1 L1313.3,402.2 L1316.4,391.8 L1320.2,386.5" fill="none" stroke="#0cd20c" stroke-width="2.15" stroke-linejoin="round" stroke-linecap="round"/>
<path d="M196.0,635.2 L203.3,630.0 L210.6,625.9 L215.8,623.8 L222.1,619.6 L229.4,614.4 L234.6,617.0 L239.8,619.6 L245.0,620.1 L250.2,622.7 L254.4,625.9 L259.6,631.1 L263.8,633.2 L268.0,634.2 L273.2,636.8 L278.4,636.3 L282.6,632.1 L285.7,629.0 L289.3,627.4 L293.0,628.5 L297.2,630.0 L302.4,631.1 L306.5,633.2 L310.7,636.3 L315.9,640.5 L319.6,642.5 L323.2,639.4 L327.4,636.3 L332.6,634.2 L338.9,633.7 L340.0,635.0 L348.3,638.4 L358.3,641.7 L365.0,644.2 L367.5,639.2 L373.4,636.7 L381.7,639.2 L388.4,644.2 L396.7,650.0 L405.0,655.0 L411.7,655.9 L416.7,660.0 L423.4,662.5 L430.1,665.0 L433.4,661.7 L437.6,655.0 L440.1,647.5 L445.1,643.4 L451.7,642.5 L458.4,645.9 L466.8,652.5 L475.1,656.7 L481.8,658.4 L488.4,664.2 L496.8,670.0 L504.3,675.0 L510.1,669.2 L516.8,668.4 L523.5,671.7 L531.8,674.2 L536.8,673.4 L541.8,675.0 L545.1,666.7 L548.5,660.9 L555.1,660.9 L561.8,665.9 L566.8,670.9 L570.0,673.4 L575.0,671.7 L580.0,665.1 L582.5,656.7 L586.7,655.9 L591.7,657.5 L595.0,650.0 L598.4,645.0 L605.0,647.5 L611.7,650.9 L618.4,652.5 L625.0,650.9 L628.4,648.4 L633.4,650.0 L638.4,647.5 L645.1,652.5 L650.1,655.9 L655.1,655.9 L661.7,661.7 L668.4,666.7 L675.1,667.6 L681.7,673.4 L688.4,677.6 L695.1,681.7 L701.8,685.9 L708.4,691.7 L715.1,696.7 L719.3,700.1 L725.9,699.2 L730.1,692.6 L735.1,687.6 L741.8,685.9 L748.5,686.7 L755.1,682.6 L761.8,684.2 L770.1,688.4 L778.5,691.7 L785.1,695.9 L791.8,700.1 L798.5,703.4 L803.5,704.2 L805.0,704.2 L811.7,700.1 L818.3,700.1 L825.0,703.4 L830.0,696.7 L835.0,695.9 L840.0,697.6 L846.7,696.7 L853.4,695.9 L856.7,687.6 L861.7,686.7 L868.4,683.4 L875.0,680.1 L880.1,675.9 L883.4,670.1 L886.7,660.0 L889.2,651.7 L893.4,641.7 L898.4,636.7 L903.4,634.2 L911.7,630.0 L921.7,620.9 L930.1,615.9 L938.4,612.5 L945.1,615.0 L951.8,615.9 L960.1,620.0 L966.8,623.4 L971.8,626.7 L976.8,631.7 L980.1,635.9 L985.1,633.4 L993.5,633.7 L1000.1,634.2 L1005.1,636.7 L1009.3,641.7 L1013.5,650.0 L1018.5,658.4 L1025.1,665.1 L1031.8,670.1 L1038.5,674.2 L1045.0,678.4 L1045.4,678.7 L1051.7,686.0 L1060.0,694.3 L1066.3,701.6 L1071.5,706.8 L1075.7,723.5 L1079.8,738.1 L1081.9,740.0 L1086.1,752.5 L1091.3,767.1 L1099.6,778.6 L1108.0,783.8 L1115.3,789.0 L1120.5,789.0 L1126.7,792.1 L1133.0,798.4 L1138.2,802.5 L1143.4,813.0 L1147.6,827.6 L1151.7,842.1 L1155.9,854.7 L1160.1,865.1 L1165.3,877.6 L1169.5,890.1 L1173.6,904.7 L1178.8,921.4 L1184.1,936.0 L1190.3,948.5 L1195.5,958.9 L1199.7,969.3 L1204.9,977.6 L1211.2,983.9 L1215.3,983.9 L1218.4,992.2 L1220.5,1004.7 L1222.6,1020.0 L1225.7,1035.9 L1228.9,1052.5 L1232.0,1067.1 L1236.2,1083.8 L1240.3,1096.3 L1244.5,1108.8 L1249.7,1120.3 L1256.0,1133.8 L1262.2,1145.3 L1268.5,1153.6 L1275.8,1162.0 L1281.0,1165.1 L1287.2,1170.3 L1293.5,1173.0 L1297.7,1173.4 L1303.9,1179.3 L1310.2,1180.7 L1313.3,1180.7 L1316.4,1183.9 L1320.2,1186.4" fill="none" stroke="#128812" stroke-width="2.15" stroke-linejoin="round" stroke-linecap="round"/>
<path d="M196.0,635.2 L201.3,640.5 L206.5,644.1 L211.7,644.6 L214.8,638.4 L217.9,634.7 L222.1,637.3 L227.3,639.4 L232.5,641.0 L236.7,636.3 L240.9,632.6 L244.0,633.2 L248.2,638.4 L253.4,641.5 L257.5,643.1 L260.7,637.3 L263.8,630.0 L266.9,628.0 L274.2,632.1 L280.5,636.3 L286.7,639.4 L293.0,642.5 L295.1,641.5 L298.2,634.2 L301.3,625.9 L304.5,620.1 L307.6,619.6 L310.7,622.7 L314.9,625.9 L320.1,628.0 L325.3,628.5 L332.6,629.5 L340.0,628.5 L345.0,627.6 L351.7,633.5 L358.3,638.5 L365.0,636.8 L373.4,640.1 L381.7,644.3 L391.7,649.3 L401.7,651.8 L408.4,649.3 L415.1,644.3 L420.1,640.1 L423.4,635.1 L426.7,621.8 L431.7,619.3 L438.4,618.5 L443.4,620.1 L448.4,623.5 L452.6,626.8 L456.7,622.6 L461.7,618.5 L468.4,619.3 L473.4,619.3 L478.4,610.1 L481.8,601.8 L486.8,597.6 L493.4,599.3 L500.1,605.1 L506.8,610.1 L515.1,615.1 L523.5,619.3 L531.8,623.5 L540.1,630.1 L546.8,636.8 L553.5,643.5 L560.1,647.6 L568.5,650.1 L570.0,651.7 L576.7,654.2 L583.3,656.7 L590.0,654.2 L594.2,647.5 L598.4,645.0 L605.0,647.5 L611.7,650.9 L618.4,652.5 L625.0,651.7 L628.4,648.4 L633.4,649.2 L637.5,645.0 L643.4,647.5 L650.1,650.9 L656.7,652.5 L665.1,652.5 L671.7,656.7 L676.7,658.4 L681.7,658.4 L686.7,651.7 L690.9,644.2 L696.8,646.7 L703.4,648.4 L711.8,650.0 L720.1,651.7 L726.8,656.7 L733.4,660.9 L740.1,665.1 L746.8,670.1 L751.8,674.2 L756.8,677.6 L760.1,671.7 L763.5,667.6 L770.1,670.1 L778.5,674.2 L785.1,675.9 L791.8,680.9 L800.2,685.9 L805.0,687.6 L810.0,690.9 L816.7,687.6 L823.3,691.7 L830.0,695.9 L836.7,694.2 L840.9,691.7 L844.2,676.7 L848.4,672.6 L855.0,672.1 L861.7,673.4 L868.4,676.7 L875.0,680.9 L880.1,685.1 L885.1,689.2 L888.4,684.2 L890.9,678.4 L896.7,678.4 L900.9,671.7 L903.4,661.7 L906.7,658.4 L911.7,655.9 L916.7,651.7 L921.7,649.2 L928.4,650.0 L931.8,647.5 L936.8,644.2 L943.4,645.0 L949.3,644.2 L952.6,638.4 L956.8,637.5 L963.4,640.0 L970.1,643.4 L976.8,645.9 L983.5,650.0 L990.1,655.0 L996.8,660.0 L1003.5,665.9 L1010.1,669.2 L1015.1,671.7 L1020.1,675.1 L1025.1,676.7 L1030.2,675.1 L1035.2,669.2 L1040.2,667.6 L1045.0,666.7 L1045.4,665.5 L1047.5,664.1 L1055.8,666.2 L1066.3,665.1 L1072.5,654.7 L1078.8,640.1 L1085.0,628.6 L1091.3,624.5 L1097.5,621.3 L1103.8,625.5 L1108.0,628.6 L1114.2,629.7 L1122.6,637.0 L1129.9,639.1 L1133.0,645.3 L1139.2,656.8 L1145.5,660.9 L1151.7,669.3 L1158.0,677.6 L1166.3,682.8 L1173.6,682.8 L1180.9,687.0 L1187.2,695.3 L1193.4,705.8 L1199.7,719.3 L1204.9,726.6 L1212.2,728.7 L1220.5,731.8 L1228.9,737.0 L1235.1,739.1 L1243.5,737.0 L1251.8,730.8 L1258.1,717.2 L1263.3,705.8 L1270.6,698.5 L1276.4,693.3 L1281.0,702.6 L1287.2,717.2 L1293.5,729.7 L1300.8,739.1 L1308.1,734.9 L1314.3,739.1 L1320.2,746.4" fill="none" stroke="#08ffff" stroke-width="2.15" stroke-linejoin="round" stroke-linecap="round"/>
<path d="M196.0,632.1 L198.1,618.6 L201.3,611.3 L205.4,609.7 L210.6,610.2 L215.8,608.1 L221.1,604.5 L225.2,604.5 L230.4,607.1 L235.7,609.2 L239.8,607.1 L244.0,606.6 L248.2,610.2 L253.4,615.4 L258.6,620.1 L262.8,623.3 L268.0,624.3 L272.1,625.9 L277.4,630.0 L282.6,634.2 L287.8,639.4 L293.0,645.7 L298.2,651.9 L303.4,655.1 L306.5,651.9 L309.7,641.5 L312.8,637.9 L318.0,635.8 L323.2,634.7 L328.4,630.0 L334.7,626.9 L339.9,621.7 L340.0,623.5 L342.5,606.8 L346.7,593.4 L351.7,588.4 L358.3,591.8 L365.0,596.8 L373.4,594.3 L380.0,591.8 L385.0,587.6 L390.0,591.8 L396.7,598.4 L405.0,605.1 L411.7,610.1 L418.4,613.4 L426.7,610.1 L433.4,611.8 L440.1,615.1 L445.1,608.4 L453.4,606.8 L458.4,600.1 L463.4,590.1 L470.1,583.4 L476.8,580.9 L483.4,585.1 L490.1,590.1 L496.8,594.3 L503.4,597.6 L511.8,596.8 L520.1,594.3 L526.8,596.8 L535.1,594.3 L541.8,598.4 L550.1,605.1 L556.8,611.8 L565.2,619.3 L570.0,621.7 L575.0,626.7 L581.7,627.5 L588.3,625.9 L592.5,620.0 L596.7,606.7 L600.9,593.3 L603.4,590.2 L611.7,590.2 L620.0,592.7 L628.4,594.3 L636.7,599.3 L645.1,604.2 L653.4,608.3 L663.4,612.5 L671.7,613.3 L678.4,618.4 L685.1,623.4 L693.4,626.7 L701.8,627.5 L708.4,630.9 L715.1,634.2 L723.4,631.7 L730.1,630.9 L736.8,631.7 L743.4,628.4 L750.1,630.9 L756.8,634.2 L760.1,625.9 L766.8,622.5 L771.8,613.3 L776.0,603.3 L780.1,597.5 L786.0,588.5 L793.5,591.8 L801.8,595.2 L805.0,595.0 L813.3,600.8 L821.7,605.0 L830.0,608.3 L838.4,608.3 L846.7,612.5 L853.4,614.2 L860.0,612.5 L866.7,615.9 L873.4,620.9 L880.1,625.0 L886.7,628.4 L893.4,630.0 L900.1,630.0 L906.7,633.4 L913.4,631.7 L918.4,630.0 L921.7,625.0 L926.7,620.9 L933.4,619.2 L941.8,620.0 L950.1,619.2 L958.4,617.5 L965.1,616.7 L971.8,619.2 L978.4,620.9 L985.1,618.4 L993.5,616.7 L1001.8,618.4 L1008.5,622.5 L1013.5,625.9 L1016.8,627.5 L1019.3,620.9 L1021.8,613.3 L1026.8,608.3 L1031.8,603.3 L1036.8,596.7 L1040.2,590.0 L1042.7,585.0 L1045.4,583.6 L1053.8,583.2 L1060.0,575.5 L1068.4,563.0 L1076.7,550.5 L1084.0,546.3 L1091.3,549.4 L1099.6,552.5 L1108.0,550.5 L1118.4,547.3 L1124.6,545.2 L1130.9,535.9 L1135.1,526.5 L1139.2,523.4 L1143.4,526.5 L1149.7,536.9 L1155.9,544.2 L1162.2,546.3 L1168.4,545.2 L1173.6,542.1 L1178.8,540.0 L1183.0,545.2 L1187.2,558.8 L1193.4,577.6 L1199.7,590.1 L1204.9,593.2 L1210.1,589.0 L1216.4,576.5 L1222.6,563.0 L1227.8,554.6 L1233.0,560.9 L1239.3,575.5 L1245.5,588.0 L1253.9,597.4 L1260.1,593.2 L1268.5,589.0 L1274.7,583.8 L1283.1,582.8 L1293.5,585.9 L1301.8,593.2 L1310.2,597.4 L1316.4,593.2 L1322.3,592.1" fill="none" stroke="#ff0000" stroke-width="5.4" stroke-linejoin="round" stroke-linecap="round"/>
<g fill="none">
<line x1="180.5" y1="195.9" x2="1338.7" y2="195.9" stroke="#707070" stroke-width="2.9"/>
<line x1="180.5" y1="1250.8" x2="1338.7" y2="1250.8" stroke="#444" stroke-width="2.4"/>
<line x1="197.1" y1="188.3" x2="197.1" y2="1258.5" stroke="#404040" stroke-width="2.2"/>
<line x1="1325.9" y1="188.3" x2="1325.9" y2="1258.5" stroke="#767676" stroke-width="3.0"/>
</g>
<line x1="180.5" y1="1162.9" x2="197.1" y2="1162.9" stroke="#555" stroke-width="2.3"/>
<line x1="1325.9" y1="1162.9" x2="1338.7" y2="1162.9" stroke="#555" stroke-width="2.3"/>
<line x1="180.5" y1="1075.0" x2="197.1" y2="1075.0" stroke="#555" stroke-width="2.3"/>
<line x1="1325.9" y1="1075.0" x2="1338.7" y2="1075.0" stroke="#555" stroke-width="2.3"/>
<line x1="180.5" y1="987.0" x2="197.1" y2="987.0" stroke="#555" stroke-width="2.3"/>
<line x1="1325.9" y1="987.0" x2="1338.7" y2="987.0" stroke="#555" stroke-width="2.3"/>
<line x1="180.5" y1="899.0" x2="197.1" y2="899.0" stroke="#555" stroke-width="2.3"/>
<line x1="1325.9" y1="899.0" x2="1338.7" y2="899.0" stroke="#555" stroke-width="2.3"/>
<line x1="180.5" y1="811.1" x2="197.1" y2="811.1" stroke="#555" stroke-width="2.3"/>
<line x1="1325.9" y1="811.1" x2="1338.7" y2="811.1" stroke="#555" stroke-width="2.3"/>
<line x1="180.5" y1="723.2" x2="197.1" y2="723.2" stroke="#555" stroke-width="2.3"/>
<line x1="1325.9" y1="723.2" x2="1338.7" y2="723.2" stroke="#555" stroke-width="2.3"/>
<line x1="180.5" y1="635.2" x2="197.1" y2="635.2" stroke="#555" stroke-width="2.3"/>
<line x1="1325.9" y1="635.2" x2="1338.7" y2="635.2" stroke="#555" stroke-width="2.3"/>
<line x1="180.5" y1="547.2" x2="197.1" y2="547.2" stroke="#555" stroke-width="2.3"/>
<line x1="1325.9" y1="547.2" x2="1338.7" y2="547.2" stroke="#555" stroke-width="2.3"/>
<line x1="180.5" y1="459.3" x2="197.1" y2="459.3" stroke="#555" stroke-width="2.3"/>
<line x1="1325.9" y1="459.3" x2="1338.7" y2="459.3" stroke="#555" stroke-width="2.3"/>
<line x1="180.5" y1="371.4" x2="197.1" y2="371.4" stroke="#555" stroke-width="2.3"/>
<line x1="1325.9" y1="371.4" x2="1338.7" y2="371.4" stroke="#555" stroke-width="2.3"/>
<line x1="180.5" y1="283.4" x2="197.1" y2="283.4" stroke="#555" stroke-width="2.3"/>
<line x1="1325.9" y1="283.4" x2="1338.7" y2="283.4" stroke="#555" stroke-width="2.3"/>
<line x1="289.6" y1="188.3" x2="289.6" y2="195.9" stroke="#444" stroke-width="2.3"/>
<line x1="289.6" y1="1250.8" x2="289.6" y2="1258.5" stroke="#444" stroke-width="2.3"/>
<line x1="385.2" y1="188.3" x2="385.2" y2="195.9" stroke="#444" stroke-width="2.3"/>
<line x1="385.2" y1="1250.8" x2="385.2" y2="1258.5" stroke="#444" stroke-width="2.3"/>
<line x1="477.8" y1="188.3" x2="477.8" y2="195.9" stroke="#444" stroke-width="2.3"/>
<line x1="477.8" y1="1250.8" x2="477.8" y2="1258.5" stroke="#444" stroke-width="2.3"/>
<line x1="573.1" y1="183" x2="573.1" y2="195.9" stroke="#4a4a4a" stroke-width="2.8"/>
<line x1="573.1" y1="1250.8" x2="573.1" y2="1265.5" stroke="#4a4a4a" stroke-width="2.8"/>
<line x1="669.0" y1="188.3" x2="669.0" y2="195.9" stroke="#444" stroke-width="2.3"/>
<line x1="669.0" y1="1250.8" x2="669.0" y2="1258.5" stroke="#444" stroke-width="2.3"/>
<line x1="758.4" y1="188.3" x2="758.4" y2="195.9" stroke="#444" stroke-width="2.3"/>
<line x1="758.4" y1="1250.8" x2="758.4" y2="1258.5" stroke="#444" stroke-width="2.3"/>
<line x1="854.0" y1="188.3" x2="854.0" y2="195.9" stroke="#444" stroke-width="2.3"/>
<line x1="854.0" y1="1250.8" x2="854.0" y2="1258.5" stroke="#444" stroke-width="2.3"/>
<line x1="946.5" y1="188.3" x2="946.5" y2="195.9" stroke="#444" stroke-width="2.3"/>
<line x1="946.5" y1="1250.8" x2="946.5" y2="1258.5" stroke="#444" stroke-width="2.3"/>
<line x1="1042.2" y1="188.3" x2="1042.2" y2="195.9" stroke="#444" stroke-width="2.3"/>
<line x1="1042.2" y1="1250.8" x2="1042.2" y2="1258.5" stroke="#444" stroke-width="2.3"/>
<line x1="1134.7" y1="188.3" x2="1134.7" y2="195.9" stroke="#444" stroke-width="2.3"/>
<line x1="1134.7" y1="1250.8" x2="1134.7" y2="1258.5" stroke="#444" stroke-width="2.3"/>
<line x1="1230.3" y1="188.3" x2="1230.3" y2="195.9" stroke="#444" stroke-width="2.3"/>
<line x1="1230.3" y1="1250.8" x2="1230.3" y2="1258.5" stroke="#444" stroke-width="2.3"/>
<text class="sans" transform="translate(163.8,295.1) scale(1,1.085)" font-size="40.4" text-anchor="end" fill="#000">200</text>
<text class="sans" transform="translate(163.8,471.0) scale(1,1.085)" font-size="40.4" text-anchor="end" fill="#000">100</text>
<text class="sans" transform="translate(163.8,646.9) scale(1,1.085)" font-size="40.4" text-anchor="end" fill="#000">0</text>
<text class="sans" transform="translate(163.8,822.8) scale(1,1.085)" font-size="40.4" text-anchor="end" fill="#000">-100</text>
<text class="sans" transform="translate(163.8,998.7) scale(1,1.085)" font-size="40.4" text-anchor="end" fill="#000">-200</text>
<text class="sans" transform="translate(163.8,1174.6) scale(1,1.085)" font-size="40.4" text-anchor="end" fill="#000">-300</text>
<text class="sans" transform="translate(61.5,670.9) rotate(-90) scale(1,1.045)" font-size="41.9" text-anchor="middle" fill="#000">Gigatons</text>
<text class="sans" x="243.4" y="1281.3" font-size="23" text-anchor="middle" fill="#000">SEP</text>
<text class="sans" x="337.4" y="1281.3" font-size="23" text-anchor="middle" fill="#000">OCT</text>
<text class="sans" x="431.5" y="1281.3" font-size="23" text-anchor="middle" fill="#000">NOV</text>
<text class="sans" x="525.6" y="1281.3" font-size="23" text-anchor="middle" fill="#000">DEC</text>
<text class="sans" x="621.2" y="1281.3" font-size="23" text-anchor="middle" fill="#000">JAN</text>
<text class="sans" x="713.7" y="1281.3" font-size="23" text-anchor="middle" fill="#000">FEB</text>
<text class="sans" x="806.2" y="1281.3" font-size="23" text-anchor="middle" fill="#000">MAR</text>
<text class="sans" x="900.3" y="1281.3" font-size="23" text-anchor="middle" fill="#000">APR</text>
<text class="sans" x="994.4" y="1281.3" font-size="23" text-anchor="middle" fill="#000">MAY</text>
<text class="sans" x="1088.4" y="1281.3" font-size="23" text-anchor="middle" fill="#000">JUN</text>
<text class="sans" x="1182.5" y="1281.3" font-size="23" text-anchor="middle" fill="#000">JUL</text>
<text class="sans" x="1278.1" y="1281.3" font-size="23" text-anchor="middle" fill="#000">AUG</text>
<text class="sans" transform="translate(385.2,1320.2) scale(1,1.08)" font-size="25" text-anchor="middle" fill="#000">2023</text>
<text class="sans" transform="translate(948,1320.2) scale(1,1.08)" font-size="24.6" text-anchor="middle" fill="#000">2024</text>
<text class="sans" x="1159" y="1329.3" font-size="26.5" fill="#000">(c) MARv3.14 -</text>
<text class="serif" x="210.3" y="803.1" font-size="29.6" fill="#00ff00" stroke="#00ff00" stroke-width="0.55" textLength="78.5" lengthAdjust="spacingAndGlyphs">1996</text>
<text class="serif" x="210.3" y="842.9" font-size="29.6" fill="#505050" stroke="#505050" stroke-width="0.55" textLength="78.5" lengthAdjust="spacingAndGlyphs">2007</text>
<text class="serif" x="210.3" y="882.6" font-size="29.6" fill="#ffe100" stroke="#ffe100" stroke-width="0.55" textLength="78.5" lengthAdjust="spacingAndGlyphs">2010</text>
<text class="serif" x="210.3" y="922.4" font-size="29.6" fill="#ffb41e" stroke="#ffb41e" stroke-width="0.55" textLength="78.5" lengthAdjust="spacingAndGlyphs">2011</text>
<text class="serif" x="210.3" y="961.7" font-size="29.6" fill="#ff8200" stroke="#ff8200" stroke-width="0.55" textLength="78.5" lengthAdjust="spacingAndGlyphs">2012</text>
<text class="serif" x="210.3" y="1001.4" font-size="29.6" fill="#b40000" stroke="#b40000" stroke-width="0.55" textLength="78.5" lengthAdjust="spacingAndGlyphs">2013</text>
<text class="serif" x="210.3" y="1039.8" font-size="29.6" fill="#00008c" stroke="#00008c" stroke-width="0.55" textLength="78.5" lengthAdjust="spacingAndGlyphs">2016</text>
<text class="serif" x="210.3" y="1079.2" font-size="29.6" fill="#8c008c" stroke="#8c008c" stroke-width="0.55" textLength="78.5" lengthAdjust="spacingAndGlyphs">2017</text>
<text class="serif" x="210.3" y="1118.8" font-size="29.6" fill="#00c800" stroke="#00c800" stroke-width="0.55" textLength="78.5" lengthAdjust="spacingAndGlyphs">2018</text>
<text class="serif" x="210.3" y="1158.7" font-size="29.6" fill="#006e00" stroke="#006e00" stroke-width="0.55" textLength="78.5" lengthAdjust="spacingAndGlyphs">2019</text>
<text class="serif" x="210.3" y="1198" font-size="29.6" fill="#00ffff" stroke="#00ffff" stroke-width="0.55" textLength="78.5" lengthAdjust="spacingAndGlyphs">2020</text>
<text class="serif" x="210" y="1239.3" font-size="34.1" fill="#ff0000" stroke="#ff0000" stroke-width="0.6" textLength="207.5" lengthAdjust="spacingAndGlyphs">2023−2024</text>
<text class="serif" y="368" font-size="30.7" fill="#111" stroke="#111" stroke-width="0.7"><tspan x="211.5" textLength="76" lengthAdjust="spacingAndGlyphs">1981</tspan><tspan x="291.5" textLength="27" lengthAdjust="spacingAndGlyphs">−</tspan><tspan x="316" textLength="79.5" lengthAdjust="spacingAndGlyphs">2010</tspan><tspan> </tspan><tspan x="411.5" textLength="95" lengthAdjust="spacingAndGlyphs">mean</tspan></text>
</svg></body></html>
